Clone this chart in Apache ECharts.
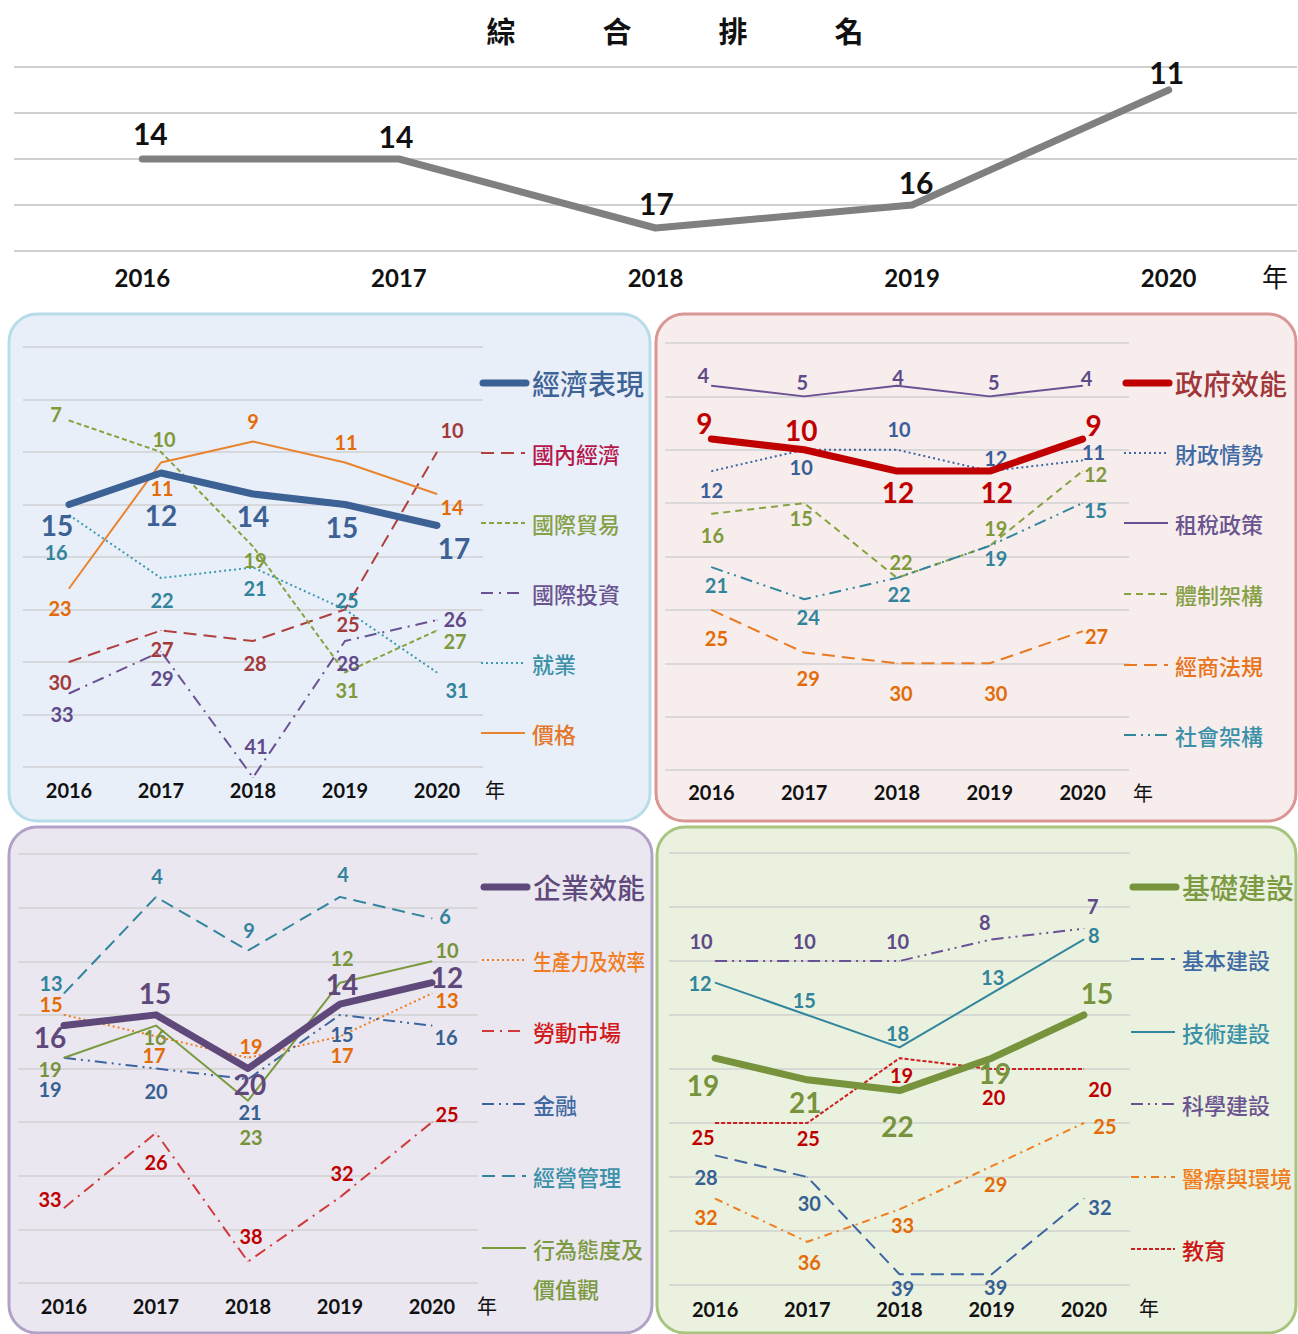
<!DOCTYPE html>
<html>
<head>
<meta charset="utf-8">
<script src="https://cdn.jsdelivr.net/npm/echarts@6.0.0/dist/echarts.min.js"></script>
<style>
  html, body { margin: 0; padding: 0; background: #fff; }
  #main { width: 1298px; height: 1334px; }
</style>
</head>
<body>
<div id="main"></div>
<script>
// 年份
const years = ['2016', '2017', '2018', '2019', '2020'];

// 綜合排名
const overallRank = [14, 14, 17, 16, 11];

// 經濟表現
const econPerf = [15, 12, 14, 15, 17];
const domesticEcon = [30, 27, 28, 25, 10];
const intlTrade = [7, 10, 19, 31, 27];
const intlInvest = [33, 29, 41, 28, 26];
const employment = [16, 22, 21, 25, 31];
const prices = [23, 11, 9, 11, 14];

// 政府效能
const govEff = [9, 10, 12, 12, 9];
const publicFinance = [12, 10, 10, 12, 11];
const taxPolicy = [4, 5, 4, 5, 4];
const institutional = [16, 15, 22, 19, 12];
const bizLaw = [25, 29, 30, 30, 27];
const societal = [21, 24, 22, 19, 15];

// 企業效能
const bizEff = [16, 15, 20, 14, 12];
const productivity = [15, 17, 19, 17, 13];
const labourMarket = [33, 26, 38, 32, 25];
const finance = [19, 20, 21, 15, 16];
const mgmtPractice = [13, 4, 9, 4, 6];
const attitudes = [19, 16, 23, 12, 10];

// 基礎建設
const infra = [19, 21, 22, 19, 15];
const basicInfra = [28, 30, 39, 39, 32];
const techInfra = [12, 15, 18, 13, 8];
const sciInfra = [10, 10, 10, 8, 7];
const healthEnv = [32, 36, 33, 29, 25];
const education = [25, 25, 19, 20, 20];

// ---- 樣式 ----
const NUM_FONT = 'Lato';
const CJK_FONT = '"Noto Sans CJK TC"';

// 數字標籤相對資料點的位移 [dx, dy]
const OFFS = {
  overall: [[8, -26], [-3, -23], [1, -25], [4, -23], [-2, -18]],
  econPerf: [[-12, 20], [0, 42], [0, 22], [-3, 22], [17, 22]],
  domesticEcon: [[-9, 20], [1, 18], [2, 22], [3, 14], [15, -22]],
  intlTrade: [[-13, -7], [3, -13], [2, 13], [2, 17], [18, 10]],
  intlInvest: [[-7, 20], [1, 26], [3, -32], [3, 22], [18, -1]],
  employment: [[-13, 37], [1, 22], [2, 20], [2, -10], [20, 17]],
  prices: [[-9, 19], [1, 25], [0, -21], [1, -21], [15, 13]],

  govEff: [[-7, -16], [-3, -20], [1, 21], [7, 21], [11, -14]],
  publicFinance: [[0, 19], [-3, 17], [2, -21], [6, -13], [11, -8]],
  taxPolicy: [[-8, -11], [-2, -14], [1, -9], [4, -14], [4, -8]],
  institutional: [[1, 21], [-3, 15], [4, -16], [6, -18], [13, 3]],
  bizLaw: [[5, 28], [4, 25], [4, 30], [6, 30], [14, 5]],
  societal: [[5, 18], [4, 18], [2, 16], [6, 12], [13, 7]],

  bizEff: [[-14, 11], [-1, -22], [2, 15], [2, -20], [15, -6]],
  productivity: [[-13, -11], [-2, 19], [3, -12], [2, 19], [15, 7]],
  labourMarket: [[-14, -9], [0, 29], [3, -26], [2, -24], [15, -8]],
  finance: [[-14, 31], [0, 22], [2, 33], [2, 19], [14, 11]],
  mgmtPractice: [[-13, -10], [1, -21], [1, -21], [3, -23], [13, -2]],
  attitudes: [[-14, 11], [-1, 11], [3, 36], [2, -25], [15, -11]],

  infra: [[-12, 27], [-2, 22], [-2, 35], [3, 15], [13, -22]],
  basicInfra: [[-9, 22], [2, 26], [3, 14], [4, 13], [16, 8]],
  techInfra: [[-15, 0], [-3, -15], [-2, -14], [1, -16], [10, -4]],
  sciInfra: [[-14, -20], [-3, -20], [-2, -20], [-7, -17], [9, -23]],
  healthEnv: [[-9, 18], [2, 20], [3, 16], [4, 18], [21, 3]],
  education: [[-12, 14], [1, 15], [2, 17], [2, 28], [16, 20]]
};

const LONG = [13, 7], SHORT = [5, 3], DOT = [2, 3], MID = [7, 5];
const DASHDOT = [12, 6, 2, 6], DASHDOTDOT = [12, 5, 2, 5, 2, 5], SDASHDOT = [8, 5, 2, 5];

const panels = [
  {
    grid: { left: 23, top: 347, width: 460, height: 420 },
    box: { x: 9, y: 314, width: 641, height: 507 }, bg: '#e9eff9', border: '#b7dde8',
    lx: 480, titleY: 383, itemYs: [453, 523, 593, 663, 733], nian: [495, 789], labelMargin: 13,
    main: { name: '經濟表現', data: econPerf, offs: OFFS.econPerf, color: '#3c6194', text: '#3f6496' },
    lines: [
      { name: '國內經濟', data: domesticEcon, offs: OFFS.domesticEcon, color: '#b0403e', label: '#a33a3a', text: '#b4184c', dash: LONG },
      { name: '國際貿易', data: intlTrade, offs: OFFS.intlTrade, color: '#86a33f', label: '#7f9a3a', text: '#86a046', dash: SHORT },
      { name: '國際投資', data: intlInvest, offs: OFFS.intlInvest, color: '#6a5193', label: '#604a8a', text: '#6a5490', dash: DASHDOT },
      { name: '就業', data: employment, offs: OFFS.employment, color: '#3a9ab2', label: '#31849b', text: '#3a91a8', dash: DOT },
      { name: '價格', data: prices, offs: OFFS.prices, color: '#e8832f', label: '#e36c09', text: '#e4782a', dash: 'solid' }
    ]
  },
  {
    grid: { left: 665, top: 343, width: 464, height: 427 },
    box: { x: 656, y: 314, width: 640, height: 507 }, bg: '#f7eded', border: '#d99694',
    lx: 1123, titleY: 383, itemYs: [453, 523, 594, 665, 735], nian: [1143, 792], labelMargin: 12,
    main: { name: '政府效能', data: govEff, offs: OFFS.govEff, color: '#c00000', text: '#a0363a' },
    lines: [
      { name: '財政情勢', data: publicFinance, offs: OFFS.publicFinance, color: '#3e66a2', label: '#3a5f98', text: '#3f6aa3', dash: DOT },
      { name: '租稅政策', data: taxPolicy, offs: OFFS.taxPolicy, color: '#6a5193', label: '#5f4a8a', text: '#6a5490', dash: 'solid' },
      { name: '體制架構', data: institutional, offs: OFFS.institutional, color: '#86a33f', label: '#7f9a3a', text: '#86a046', dash: MID },
      { name: '經商法規', data: bizLaw, offs: OFFS.bizLaw, color: '#ea7a22', label: '#e36c09', text: '#e8731b', dash: LONG },
      { name: '社會架構', data: societal, offs: OFFS.societal, color: '#31869e', label: '#31849b', text: '#3a91a8', dash: DASHDOTDOT }
    ]
  },
  {
    grid: { left: 18, top: 854, width: 460, height: 429 },
    box: { x: 9, y: 827, width: 643, height: 506 }, bg: '#ebe7f1', border: '#b3a2c7',
    lx: 481, titleY: 887, itemYs: [960, 1031, 1104, 1176, 1248], nian: [487, 1305], labelMargin: 13,
    main: { name: '企業效能', data: bizEff, offs: OFFS.bizEff, color: '#5f497a', text: '#60497b' },
    lines: [
      { name: '生產力及效率', data: productivity, offs: OFFS.productivity, color: '#f07d1e', label: '#e36c09', text: '#f07d1e', dash: DOT, squeeze: 0.85 },
      { name: '勞動市場', data: labourMarket, offs: OFFS.labourMarket, color: '#d0393a', label: '#c00000', text: '#d21a1a', dash: DASHDOT },
      { name: '金融', data: finance, offs: OFFS.finance, color: '#3b64a0', label: '#376092', text: '#3f6aa3', dash: DASHDOTDOT },
      { name: '經營管理', data: mgmtPractice, offs: OFFS.mgmtPractice, color: '#31869e', label: '#31849b', text: '#3a91a8', dash: LONG },
      { name: '行為態度及價值觀', data: attitudes, offs: OFFS.attitudes, color: '#7b9a3e', label: '#77933c', text: '#7c9a42', dash: 'solid', wrap: 5 }
    ]
  },
  {
    grid: { left: 669, top: 853, width: 461, height: 432 },
    box: { x: 657, y: 827, width: 639, height: 506 }, bg: '#ebf1df', border: '#a9c47f',
    lx: 1130, titleY: 887, itemYs: [959, 1032, 1104, 1177, 1249], nian: [1149, 1307], labelMargin: 14,
    main: { name: '基礎建設', data: infra, offs: OFFS.infra, color: '#77933c', text: '#7c9a42' },
    lines: [
      { name: '基本建設', data: basicInfra, offs: OFFS.basicInfra, color: '#3b64a0', label: '#376092', text: '#3f6aa3', dash: LONG },
      { name: '技術建設', data: techInfra, offs: OFFS.techInfra, color: '#31869e', label: '#31849b', text: '#3a91a8', dash: 'solid' },
      { name: '科學建設', data: sciInfra, offs: OFFS.sciInfra, color: '#6a5193', label: '#5f4a8a', text: '#6a5490', dash: DASHDOTDOT },
      { name: '醫療與環境', data: healthEnv, offs: OFFS.healthEnv, color: '#f07d1e', label: '#e36c09', text: '#f07d1e', dash: SDASHDOT },
      { name: '教育', data: education, offs: OFFS.education, color: '#cc2020', label: '#c00000', text: '#cc1818', dash: [4, 2] }
    ]
  }
];

function pointData(values, offs) {
  return values.map((v, i) => ({ value: v, label: { offset: offs[i] } }));
}

function lineSeries(idx, name, values, offs, o) {
  return {
    type: 'line', name: name, xAxisIndex: idx, yAxisIndex: idx,
    data: pointData(values, offs),
    symbol: 'circle', symbolSize: 1, clip: false, silent: true,
    lineStyle: { color: o.color, width: o.width, type: o.dash, cap: o.cap || 'butt', join: 'round' },
    itemStyle: { color: o.color },
    label: {
      show: true, position: 'inside', formatter: '{c}',
      color: o.label, fontSize: o.fontSize, fontWeight: 'bold', fontFamily: NUM_FONT
    },
    emphasis: { disabled: true },
    z: o.z || 2
  };
}

const grids = [{ left: 14, top: 67, width: 1283, height: 184 }];
const xAxes = [{
  type: 'category', gridIndex: 0, data: years, boundaryGap: true,
  axisLine: { show: false }, axisTick: { show: false },
  axisLabel: { margin: 14, fontSize: 24, fontWeight: 'bold', color: '#111', fontFamily: NUM_FONT }
}];
const yAxes = [{
  type: 'value', gridIndex: 0, inverse: true, min: 10, max: 18, interval: 2,
  axisLabel: { show: false }, axisLine: { show: false }, axisTick: { show: false },
  splitLine: { lineStyle: { color: '#bfbfbf', width: 1.5 } }
}];
const series = [
  lineSeries(0, '綜合排名', overallRank, OFFS.overall,
    { color: '#808080', width: 7, dash: 'solid', cap: 'round', label: '#111', fontSize: 30 })
];

const graphics = [
  { type: 'text', x: 675, y: 30, z: 10,
    style: { text: '綜\u3000\u3000\u3000合\u3000\u3000\u3000排\u3000\u3000\u3000名', fill: '#111',
      font: 'bold 29px ' + CJK_FONT, textAlign: 'center', textVerticalAlign: 'middle' } },
  { type: 'text', x: 1275, y: 275, z: 10,
    style: { text: '年', fill: '#111', font: '26px ' + CJK_FONT, textAlign: 'center', textVerticalAlign: 'middle' } }
];

panels.forEach((p, k) => {
  const idx = k + 1;
  grids.push(p.grid);
  xAxes.push({
    type: 'category', gridIndex: idx, data: years, boundaryGap: true,
    axisLine: { show: false }, axisTick: { show: false },
    axisLabel: { margin: p.labelMargin, fontSize: 20, fontWeight: 'bold', color: '#111', fontFamily: NUM_FONT }
  });
  yAxes.push({
    type: 'value', gridIndex: idx, inverse: true, min: 0, max: 40, interval: 5,
    axisLabel: { show: false }, axisLine: { show: false }, axisTick: { show: false },
    splitLine: { lineStyle: { color: '#d0d0d0', width: 1.5 } }
  });

  series.push(lineSeries(idx, p.main.name, p.main.data, p.main.offs,
    { color: p.main.color, width: 7, dash: 'solid', cap: 'round', label: p.main.color, fontSize: 28, z: 3 }));
  p.lines.forEach(s => {
    series.push(lineSeries(idx, s.name, s.data, s.offs,
      { color: s.color, width: 2, dash: s.dash, label: s.label, fontSize: 20 }));
  });

  // 面板底框
  graphics.push({
    type: 'rect', z: -10, shape: { x: p.box.x, y: p.box.y, width: p.box.width, height: p.box.height, r: 28 },
    style: { fill: p.bg, stroke: p.border, lineWidth: 3 }
  });
  graphics.push({
    type: 'text', x: p.nian[0], y: p.nian[1], z: 10,
    style: { text: '年', fill: '#111', font: '20px ' + CJK_FONT, textAlign: 'center', textVerticalAlign: 'middle' }
  });

  // 圖例
  graphics.push({
    type: 'line', z: 10, shape: { x1: p.lx + 3, y1: p.titleY, x2: p.lx + 46, y2: p.titleY },
    style: { stroke: p.main.color, lineWidth: 7, lineCap: 'round' }
  });
  graphics.push({
    type: 'text', x: p.lx + 52, y: p.titleY, z: 10,
    style: { text: p.main.name, fill: p.main.text, font: '500 28px ' + CJK_FONT, textVerticalAlign: 'middle' }
  });
  p.lines.forEach((s, i) => {
    const y = p.itemYs[i];
    graphics.push({
      type: 'line', z: 10, shape: { x1: p.lx + 1, y1: y, x2: p.lx + 45, y2: y },
      style: { stroke: s.color, lineWidth: 2, lineDash: s.dash === 'solid' ? null : s.dash }
    });
    const name = s.wrap ? s.name.slice(0, s.wrap) : s.name;
    graphics.push({
      type: 'text', x: p.lx + 52, y: y, z: 10, scaleX: s.squeeze || 1,
      style: { text: name, fill: s.text, font: '500 22px ' + CJK_FONT, textVerticalAlign: 'middle' }
    });
    if (s.wrap) {
      graphics.push({
        type: 'text', x: p.lx + 52, y: y + 40, z: 10,
        style: { text: s.name.slice(s.wrap), fill: s.text, font: '500 22px ' + CJK_FONT, textVerticalAlign: 'middle' }
      });
    }
  });
});

const chart = echarts.init(document.getElementById('main'), null, { renderer: 'svg' });
chart.setOption({
  animation: false,
  backgroundColor: '#ffffff',
  grid: grids,
  xAxis: xAxes,
  yAxis: yAxes,
  series: series,
  graphic: graphics
});
</script>
</body>
</html>
